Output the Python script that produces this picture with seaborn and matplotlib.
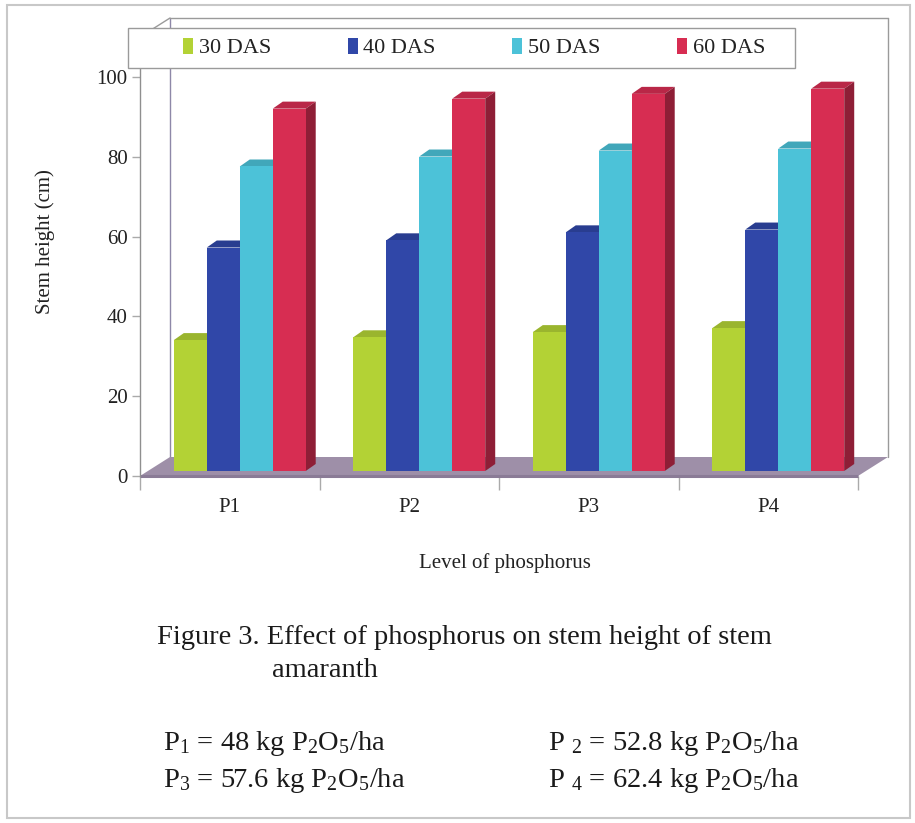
import numpy as np
import pandas as pd
import matplotlib
matplotlib.use("Agg")
import matplotlib.pyplot as plt
import seaborn as sns
from matplotlib.patches import Polygon, Rectangle
from matplotlib.colors import to_rgb

# Stem height (cm) by phosphorus level and days after sowing
levels = ["P1", "P2", "P3", "P4"]
stages = ["30 DAS", "40 DAS", "50 DAS", "60 DAS"]
das30 = [32.8, 33.5, 34.8, 35.8]
das40 = [56.0, 57.8, 59.8, 60.5]
das50 = [76.3, 78.8, 80.3, 80.8]
das60 = [90.8, 93.3, 94.5, 95.8]
palette = ["#B3D235", "#3047A8", "#4CC2D8", "#D72D52"]
yticks = [0, 20, 40, 60, 80, 100]

df = pd.DataFrame({
    "level": levels * len(stages),
    "stage": np.repeat(stages, len(levels)),
    "height": das30 + das40 + das50 + das60,
})

sns.set_theme(style="white")
plt.rcParams["font.family"] = ["Liberation Serif", "DejaVu Serif"]
plt.rcParams["mathtext.fontset"] = "custom"
plt.rcParams["mathtext.rm"] = "Liberation Serif"
plt.rcParams["mathtext.it"] = "Liberation Serif:italic"

W, H, DPI = 915, 823, 100
fig = plt.figure(figsize=(W / DPI, H / DPI), dpi=DPI)
fig.patch.set_facecolor("white")

YMAX = 110
ax = fig.add_axes([140 / W, 1 - 476 / H, 718 / W, 439 / H])
ax.set_facecolor("none")

sns.barplot(data=df, x="level", y="height", hue="stage", palette=palette,
            width=0.735, saturation=1, edgecolor="none", linewidth=0, ax=ax)
ax.set_xlim(-0.5, 3.5)
ax.set_ylim(0, YMAX)

# pixel -> data conversions for the pseudo-3D depth
ux = 718 / 4.0
uy = 439 / YMAX
def px(v):
    return v / ux
def py(v):
    return v / uy

def shade(c, f):
    r, g, b = to_rgb(c)
    return (r * f, g * f, b * f)

FX, FY = px(30), py(19)      # floor / wall depth
OX, OY = px(10), py(5)       # bar front-face offset
BX, BY = px(10), py(7)       # bar depth

# floor
ax.add_patch(Polygon([(-0.5, 0), (3.5, 0), (3.5 + FX, FY), (-0.5 + FX, FY)],
                     closed=True, fc="#9E8FA8", ec="none", zorder=1.5, clip_on=False))
ax.plot([-0.5, 3.5], [0, 0], color="#8A7B96", lw=2.2, zorder=1.6, clip_on=False,
        solid_capstyle="butt")

# walls
wall_c = "#8E88A8"
ax.plot([-0.5 + FX, -0.5 + FX], [FY, YMAX + FY], color=wall_c, lw=1.0, zorder=1.2, clip_on=False)
ax.plot([3.5 + FX, 3.5 + FX], [FY, YMAX + FY], color="#9a9a9a", lw=1.0, zorder=1.2, clip_on=False)
ax.plot([-0.5 + FX, 3.5 + FX], [YMAX + FY, YMAX + FY], color="#9a9a9a", lw=1.0, zorder=1.2, clip_on=False)
ax.plot([-0.5, -0.5 + FX], [YMAX, YMAX + FY], color="#9a9a9a", lw=1.0, zorder=1.2, clip_on=False)

# 3D bar faces
for j, cont in enumerate(ax.containers):
    base = palette[j]
    for bar in cont:
        x0 = bar.get_x() + OX
        w = bar.get_width()
        h = bar.get_height()
        bar.set_x(x0)
        bar.set_y(OY)
        bar.set_clip_on(False)
        bar.set_zorder(3 + j * 0.1 + 0.05)
        y1 = OY + h
        top = Polygon([(x0, y1), (x0 + w, y1), (x0 + w + BX, y1 + BY), (x0 + BX, y1 + BY)],
                      closed=True, fc=shade(base, 0.86), ec="none",
                      zorder=3 + j * 0.1, clip_on=False)
        side = Polygon([(x0 + w, OY), (x0 + w + BX, OY + BY), (x0 + w + BX, y1 + BY), (x0 + w, y1)],
                       closed=True, fc=shade(base, 0.66), ec="none",
                       zorder=3 + j * 0.1, clip_on=False)
        ax.add_patch(top)
        ax.add_patch(side)

# axes styling
for s in ["top", "right", "bottom"]:
    ax.spines[s].set_visible(False)
ax.spines["left"].set_color("#8f8f8f")
ax.spines["left"].set_linewidth(1.0)
ax.set_yticks(yticks)
ax.set_yticklabels([str(t) for t in yticks])
ax.tick_params(axis="y", labelsize=15, length=6, width=1, color="#aaaaaa",
               pad=3, labelcolor="#222222", left=True)
ax.set_xticks(range(len(levels)))
ax.set_xticklabels(levels)
ax.set_xticks(np.arange(-0.5, 4.0, 1.0), minor=True)
ax.tick_params(axis="x", which="major", length=0, labelsize=15, pad=16, labelcolor="#222222")
ax.tick_params(axis="x", which="minor", length=10, width=1, color="#aaaaaa", bottom=True)

ax.set_ylabel("Stem height (cm)", fontsize=15, color="#222222")
ax.yaxis.set_label_coords((45 - 140) / 718, (476 - 242) / 439)
ax.yaxis.label.set_va("center")
ax.set_xlabel("Level of phosphorus", fontsize=15, color="#222222")
ax.xaxis.set_label_coords((505 - 140) / 718, (476 - 563) / 439)
ax.xaxis.label.set_va("center")

# legend inside a white box across the top
handles, labels = ax.get_legend_handles_labels()
if ax.get_legend() is not None:
    ax.get_legend().remove()
box = Rectangle((128 / W, 1 - 68 / H), (795 - 128) / W, 40 / H, transform=fig.transFigure,
                fc="white", ec="#9a9a9a", lw=1.0, zorder=4)
fig.patches.append(box)
leg = fig.legend(handles, labels, ncol=4, loc="center left",
                 bbox_to_anchor=(183 / W, 1 - 48 / H, (765 - 183) / W, 0.0),
                 mode="expand", frameon=False, fontsize=16, borderpad=0,
                 handlelength=0.45, handleheight=0.75, handletextpad=0.25,
                 borderaxespad=0)
leg.set_zorder(6)
for t in leg.get_texts():
    t.set_color("#222222")

# outer frame
fig.patches.append(Rectangle((7 / W, 1 - 818 / H), (910 - 7) / W, (818 - 5) / H,
                             transform=fig.transFigure, fill=False, ec="#c8c8c8", lw=1.5, zorder=0))

# caption and notes
cap_kw = dict(fontsize=20.5, color="#1a1a1a", va="baseline", ha="left")
fig.text(157 / W, 1 - 644 / H, "Figure 3. Effect of phosphorus on stem height of stem", **cap_kw)
fig.text(272 / W, 1 - 677 / H, "amaranth", **cap_kw)
fig.text(163 / W, 1 - 750 / H, r"P$_1$ = 48 kg P$_2$O$_5$/ha", **cap_kw)
fig.text(548 / W, 1 - 750 / H, r"P $_2$ = 52.8 kg P$_2$O$_5$/ha", **cap_kw)
fig.text(163 / W, 1 - 787 / H, r"P$_3$ = 57.6 kg P$_2$O$_5$/ha", **cap_kw)
fig.text(548 / W, 1 - 787 / H, r"P $_4$ = 62.4 kg P$_2$O$_5$/ha", **cap_kw)

fig.savefig("out.png", dpi=DPI)
